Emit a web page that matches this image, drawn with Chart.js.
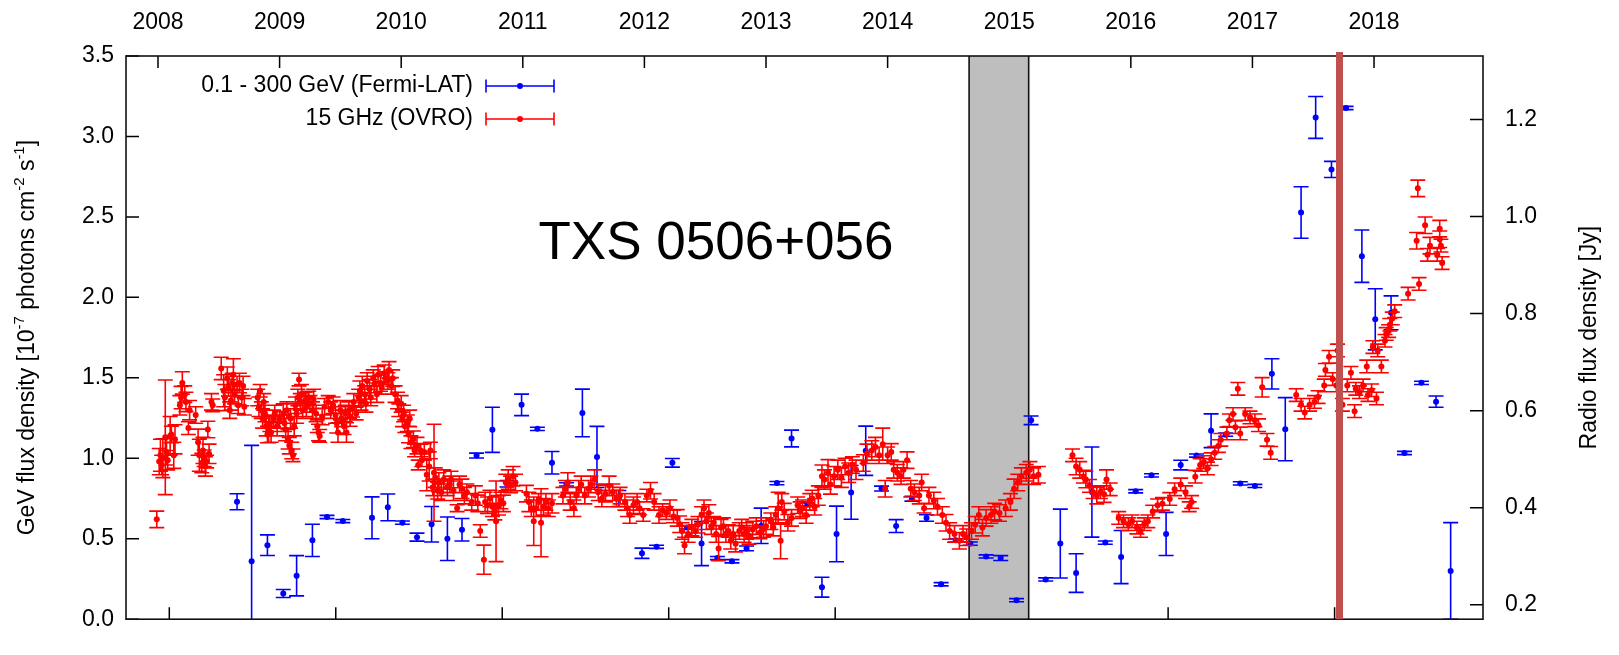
<!DOCTYPE html>
<html>
<head>
<meta charset="utf-8">
<title>TXS 0506+056 light curve</title>
<script src="https://cdn.jsdelivr.net/npm/chart.js@4.4.1/dist/chart.umd.min.js"></script>
<style>
  html, body { margin: 0; padding: 0; background: #fff; }
  canvas { display: block; }
</style>
</head>
<body>
<canvas id="lightCurve" width="1619" height="655"></canvas>
<script>
// axis ticks
const yearTicks = [2008, 2009, 2010, 2011, 2012, 2013, 2014, 2015, 2016, 2017, 2018];
const mjdTicks = [54500, 55000, 55500, 56000, 56500, 57000, 57500, 58000];
const gevTicks = [0, 0.5, 1.0, 1.5, 2.0, 2.5, 3.0, 3.5];
const jyTicks = [0.2, 0.4, 0.6, 0.8, 1.0, 1.2];

// Fermi-LAT 0.1-300 GeV, units of 1e-7 ph cm^-2 s^-1
const fermiYear = [
  2008.65, 2008.77, 2008.90, 2009.03, 2009.14, 2009.27, 2009.39, 2009.52, 2009.76, 2009.89,
  2010.01, 2010.13, 2010.25, 2010.38, 2010.50, 2010.62, 2010.75, 2010.87, 2010.99, 2011.12,
  2011.24, 2011.36, 2011.49, 2011.61, 2011.79, 2011.98, 2012.10, 2012.23, 2012.35, 2012.47,
  2012.60, 2012.72, 2012.84, 2012.96, 2013.09, 2013.21, 2013.34, 2013.46, 2013.58, 2013.70,
  2013.82, 2013.95, 2014.07, 2014.20, 2014.32, 2014.44, 2014.56, 2014.68, 2014.81, 2014.93,
  2015.06, 2015.18, 2015.30, 2015.42, 2015.55, 2015.68, 2015.79, 2015.92, 2016.04, 2016.17,
  2016.29, 2016.41, 2016.54, 2016.66, 2016.78, 2016.90, 2017.02, 2017.16, 2017.27, 2017.40,
  2017.52, 2017.65, 2017.77, 2017.90, 2018.01, 2018.14, 2018.25, 2018.39, 2018.51, 2018.63
];
const fermiFlux = [
  0.73, 0.36, 0.46, 0.16, 0.27, 0.49, 0.635, 0.61, 0.63, 0.695,
  0.60, 0.51, 0.59, 0.50, 0.556, 1.017, 1.177, 0.842, 1.332, 1.183,
  0.972, 0.838, 1.282, 1.008, 0.75, 0.41, 0.45, 0.972, 0.57, 0.47,
  0.38, 0.36, 0.44, 0.58, 0.846, 1.123, 0.713, 0.199, 0.53, 0.788,
  1.047, 0.812, 0.579, 0.749, 0.629, 0.217, 0.49, 0.47, 0.39, 0.38,
  0.118, 1.236, 0.247, 0.47, 0.287, 0.79, 0.476, 0.386, 0.795, 0.894,
  0.53, 0.958, 1.017, 1.171, 1.147, 0.844, 0.828, 1.525, 1.181, 2.527,
  3.118, 2.795, 3.177, 2.256, 1.864, 1.904, 1.033, 1.469, 1.352, 0.30
];
const fermiErr = [
  0.05, 0.72, 0.064, 0.025, 0.125, 0.10, 0.01, 0.01, 0.13, 0.083,
  0.01, 0.025, 0.11, 0.135, 0.07, 0.015, 0.14, 0.02, 0.067, 0.01,
  0.07, 0.01, 0.148, 0.19, 0.05, 0.032, 0.01, 0.027, 0.01, 0.137,
  0.01, 0.01, 0.015, 0.11, 0.01, 0.052, 0.01, 0.062, 0.173, 0.167,
  0.153, 0.015, 0.04, 0.015, 0.02, 0.01, 0.01, 0.01, 0.01, 0.015,
  0.01, 0.027, 0.01, 0.214, 0.12, 0.28, 0.01, 0.165, 0.01, 0.01,
  0.134, 0.03, 0.01, 0.105, 0.01, 0.01, 0.01, 0.094, 0.196, 0.16,
  0.13, 0.05, 0.01, 0.163, 0.19, 0.105, 0.01, 0.01, 0.035, 0.30
];

// OVRO 15 GHz, Jy
const radioYear = [
  2007.99, 2008.01, 2008.02, 2008.03, 2008.04, 2008.06, 2008.07, 2008.08, 2008.10, 2008.11,
  2008.13, 2008.14, 2008.18, 2008.19, 2008.20, 2008.22, 2008.23, 2008.25, 2008.26, 2008.31,
  2008.33, 2008.34, 2008.36, 2008.37, 2008.38, 2008.39, 2008.40, 2008.41, 2008.42, 2008.44, 2008.45,
  2008.52, 2008.54, 2008.55, 2008.57, 2008.58, 2008.59, 2008.60, 2008.61, 2008.62, 2008.63, 2008.65, 2008.66, 2008.67, 2008.69, 2008.70, 2008.71,
  2008.82, 2008.83, 2008.84, 2008.85, 2008.86, 2008.87, 2008.88, 2008.89, 2008.90, 2008.91, 2008.92, 2008.93, 2008.95, 2008.96, 2008.98, 2009.00,
  2009.03, 2009.04, 2009.05, 2009.06, 2009.07, 2009.08, 2009.09, 2009.10, 2009.11, 2009.12, 2009.13, 2009.14, 2009.15, 2009.16, 2009.17, 2009.18, 2009.19,
  2009.21, 2009.22, 2009.24, 2009.25, 2009.27, 2009.28, 2009.30, 2009.31, 2009.32, 2009.33, 2009.35, 2009.37,
  2009.40, 2009.42, 2009.44, 2009.46, 2009.47, 2009.48, 2009.50, 2009.51, 2009.53, 2009.54, 2009.55, 2009.57, 2009.58, 2009.60, 2009.61, 2009.63,
  2009.65, 2009.66, 2009.67, 2009.68, 2009.70, 2009.71, 2009.72, 2009.74, 2009.75, 2009.77, 2009.78, 2009.80, 2009.81, 2009.83, 2009.84, 2009.86, 2009.87, 2009.89, 2009.90, 2009.92, 2009.93, 2009.95,
  2009.97, 2009.98, 2010.00, 2010.01, 2010.02, 2010.03, 2010.05, 2010.06, 2010.07, 2010.08, 2010.10, 2010.11, 2010.13, 2010.14, 2010.16, 2010.17,
  2010.19, 2010.21, 2010.23, 2010.24, 2010.26, 2010.27, 2010.28, 2010.30, 2010.31, 2010.33, 2010.35,
  2010.38, 2010.40, 2010.41, 2010.43, 2010.46, 2010.48, 2010.50, 2010.52, 2010.54,
  2010.58, 2010.61, 2010.63, 2010.65, 2010.68, 2010.69, 2010.71, 2010.73, 2010.75, 2010.77, 2010.78, 2010.80, 2010.82, 2010.84, 2010.86, 2010.88, 2010.90, 2010.92, 2010.94,
  2011.03, 2011.05, 2011.07, 2011.09, 2011.11, 2011.13, 2011.15, 2011.17, 2011.19, 2011.21, 2011.24,
  2011.33, 2011.35, 2011.37, 2011.39, 2011.42, 2011.44, 2011.46, 2011.48, 2011.51, 2011.54, 2011.56, 2011.59, 2011.62, 2011.65, 2011.68, 2011.71, 2011.74, 2011.77, 2011.80,
  2011.84, 2011.86, 2011.88, 2011.91, 2011.94, 2011.96, 2011.99, 2012.02, 2012.05, 2012.08, 2012.12, 2012.15, 2012.18, 2012.21, 2012.24,
  2012.27, 2012.29, 2012.31, 2012.33, 2012.36, 2012.39, 2012.42, 2012.44,
  2012.47, 2012.49, 2012.51, 2012.53, 2012.55, 2012.57, 2012.59, 2012.61, 2012.63, 2012.65, 2012.67, 2012.69, 2012.71, 2012.73, 2012.75, 2012.78, 2012.80, 2012.82, 2012.84, 2012.86, 2012.89, 2012.92, 2012.95, 2012.98, 2013.00,
  2013.04, 2013.06, 2013.08, 2013.10, 2013.12, 2013.13, 2013.15, 2013.18, 2013.21, 2013.26, 2013.28, 2013.30, 2013.33, 2013.36, 2013.38, 2013.40,
  2013.43, 2013.46, 2013.48, 2013.51, 2013.53, 2013.56, 2013.59, 2013.62, 2013.65, 2013.68, 2013.71, 2013.74,
  2013.80, 2013.83, 2013.87, 2013.90, 2013.93, 2013.96, 2013.98, 2014.00, 2014.03, 2014.05,
  2014.08, 2014.11, 2014.13, 2014.16, 2014.19, 2014.22, 2014.26, 2014.28, 2014.30, 2014.34, 2014.38, 2014.41,
  2014.45, 2014.48, 2014.51, 2014.55, 2014.59, 2014.62, 2014.65, 2014.69, 2014.72, 2014.75, 2014.78, 2014.81, 2014.85, 2014.88, 2014.92,
  2014.97, 2015.01, 2015.04, 2015.07, 2015.10, 2015.14, 2015.17, 2015.20, 2015.24,
  2015.52, 2015.55, 2015.58, 2015.61, 2015.63, 2015.66, 2015.69, 2015.72, 2015.75, 2015.78, 2015.80, 2015.83,
  2015.90, 2015.94, 2015.98, 2016.01, 2016.05, 2016.08, 2016.11, 2016.14, 2016.18, 2016.22, 2016.26,
  2016.32, 2016.36, 2016.41, 2016.45, 2016.48, 2016.50, 2016.53, 2016.57, 2016.60, 2016.63, 2016.66, 2016.69, 2016.72,
  2016.74, 2016.79, 2016.81, 2016.84, 2016.86, 2016.88, 2016.90, 2016.94, 2016.98, 2017.02, 2017.05, 2017.08, 2017.12, 2017.15,
  2017.36, 2017.40, 2017.43, 2017.47, 2017.51, 2017.54, 2017.59, 2017.60, 2017.63, 2017.66, 2017.69, 2017.70,
  2017.74, 2017.78, 2017.81, 2017.84, 2017.85, 2017.88, 2017.91, 2017.94, 2017.95, 2017.98, 2017.99, 2018.02, 2018.03, 2018.06, 2018.09, 2018.10, 2018.12, 2018.13, 2018.15, 2018.17,
  2018.28, 2018.35, 2018.36, 2018.37, 2018.42, 2018.44, 2018.46, 2018.52, 2018.54, 2018.54, 2018.55, 2018.56
];
const radioFlux = [
  0.376, 0.495, 0.508, 0.488, 0.502, 0.545, 0.515, 0.498, 0.548, 0.551,
  0.508, 0.541, 0.611, 0.627, 0.657, 0.634, 0.618, 0.564, 0.601, 0.591,
  0.535, 0.508, 0.492, 0.518, 0.502, 0.485, 0.495, 0.561, 0.511, 0.618, 0.611,
  0.687, 0.641, 0.627, 0.667, 0.647, 0.601, 0.621, 0.657, 0.674, 0.634, 0.654, 0.611, 0.657, 0.627, 0.651, 0.608,
  0.627, 0.608, 0.641, 0.601, 0.584, 0.618, 0.594, 0.568, 0.551, 0.561, 0.574, 0.555, 0.584, 0.594, 0.568, 0.581,
  0.594, 0.574, 0.561, 0.601, 0.541, 0.528, 0.584, 0.518, 0.508, 0.568, 0.611, 0.594, 0.627, 0.664, 0.618, 0.634, 0.601,
  0.621, 0.608, 0.627, 0.614, 0.601, 0.624, 0.594, 0.568, 0.555, 0.548, 0.588, 0.608,
  0.618, 0.601, 0.611, 0.591, 0.574, 0.555, 0.601, 0.584, 0.568, 0.594, 0.555, 0.601, 0.588, 0.604, 0.618, 0.594,
  0.627, 0.641, 0.618, 0.651, 0.634, 0.614, 0.661, 0.644, 0.627, 0.667, 0.654, 0.634, 0.674, 0.657, 0.647, 0.677, 0.667, 0.661, 0.684, 0.651, 0.667, 0.634,
  0.621, 0.601, 0.614, 0.584, 0.594, 0.568, 0.574, 0.551, 0.584, 0.535, 0.541, 0.518, 0.528, 0.488, 0.518, 0.498,
  0.515, 0.468, 0.485, 0.518, 0.442, 0.472, 0.462, 0.435, 0.452, 0.432, 0.458,
  0.442, 0.448, 0.458, 0.435, 0.399, 0.448, 0.439, 0.425, 0.432,
  0.412, 0.425, 0.409, 0.352, 0.293, 0.412, 0.405, 0.419, 0.402, 0.392, 0.372, 0.405, 0.415, 0.409, 0.452, 0.458, 0.448, 0.465, 0.452,
  0.429, 0.412, 0.399, 0.372, 0.399, 0.412, 0.369, 0.402, 0.412, 0.399, 0.409,
  0.425, 0.439, 0.452, 0.412, 0.399, 0.425, 0.439, 0.448, 0.425, 0.439, 0.448, 0.458, 0.432, 0.419, 0.429, 0.445, 0.432, 0.419, 0.425,
  0.412, 0.399, 0.385, 0.405, 0.412, 0.399, 0.385, 0.425, 0.435, 0.412, 0.385, 0.395, 0.389, 0.399, 0.382,
  0.379, 0.366, 0.352, 0.322, 0.346, 0.359, 0.352, 0.365,
  0.385, 0.399, 0.372, 0.389, 0.362, 0.369, 0.346, 0.316, 0.359, 0.362, 0.346, 0.352, 0.332, 0.346, 0.326, 0.352, 0.359, 0.346, 0.352, 0.342, 0.355, 0.362, 0.349, 0.356, 0.362,
  0.372, 0.359, 0.385, 0.399, 0.332, 0.412, 0.392, 0.369, 0.379, 0.405, 0.395, 0.399, 0.385, 0.412, 0.419, 0.402,
  0.425, 0.465, 0.458, 0.472, 0.448, 0.465, 0.478, 0.462, 0.485, 0.472, 0.488, 0.478,
  0.492, 0.511, 0.518, 0.525, 0.508, 0.531, 0.439, 0.508, 0.515, 0.478,
  0.472, 0.465, 0.478, 0.498, 0.439, 0.432, 0.425, 0.452, 0.399, 0.425, 0.415, 0.402,
  0.385, 0.369, 0.352, 0.346, 0.332, 0.346, 0.339, 0.352, 0.365, 0.385, 0.359, 0.379, 0.385, 0.392, 0.389,
  0.399, 0.412, 0.439, 0.452, 0.465, 0.472, 0.478, 0.465, 0.468,
  0.508, 0.485, 0.478, 0.464, 0.458, 0.445, 0.432, 0.425, 0.432, 0.428, 0.458, 0.438,
  0.379, 0.372, 0.366, 0.372, 0.359, 0.352, 0.366, 0.372, 0.392, 0.405, 0.408,
  0.418, 0.438, 0.448, 0.432, 0.402, 0.412, 0.464, 0.488, 0.494, 0.481, 0.500, 0.513, 0.527,
  0.540, 0.553, 0.580, 0.593, 0.566, 0.645, 0.553, 0.593, 0.586, 0.580, 0.570, 0.648, 0.540, 0.513,
  0.632, 0.612, 0.596, 0.612, 0.618, 0.628, 0.652, 0.684, 0.711, 0.665, 0.652, 0.724,
  0.612, 0.652, 0.678, 0.599, 0.645, 0.638, 0.652, 0.691, 0.632, 0.642, 0.731, 0.625, 0.724, 0.691, 0.744, 0.758, 0.764, 0.777, 0.790, 0.805,
  0.841, 0.950, 1.058, 0.861, 0.982, 0.921, 0.940, 0.921, 0.975, 0.953, 0.940, 0.904
];
const radioErr = [
  0.017, 0.027, 0.033, 0.020, 0.040, 0.118, 0.027, 0.020, 0.040, 0.017,
  0.027, 0.030, 0.020, 0.023, 0.023, 0.017, 0.020, 0.013, 0.020, 0.017,
  0.027, 0.033, 0.020, 0.027, 0.017, 0.020, 0.013, 0.017, 0.020, 0.017, 0.013,
  0.023, 0.033, 0.027, 0.023, 0.017, 0.017, 0.020, 0.020, 0.033, 0.020, 0.017, 0.017, 0.020, 0.017, 0.020, 0.017,
  0.017, 0.020, 0.013, 0.017, 0.020, 0.017, 0.017, 0.020, 0.017, 0.027, 0.017, 0.020, 0.017, 0.017, 0.020, 0.017,
  0.020, 0.017, 0.023, 0.017, 0.020, 0.017, 0.020, 0.017, 0.013, 0.020, 0.017, 0.020, 0.017, 0.013, 0.017, 0.020, 0.017,
  0.017, 0.020, 0.013, 0.017, 0.017, 0.020, 0.017, 0.013, 0.017, 0.013, 0.017, 0.017,
  0.013, 0.017, 0.017, 0.017, 0.020, 0.020, 0.020, 0.017, 0.017, 0.017, 0.020, 0.017, 0.020, 0.017, 0.017, 0.013,
  0.017, 0.020, 0.017, 0.020, 0.017, 0.017, 0.017, 0.020, 0.017, 0.017, 0.017, 0.017, 0.017, 0.017, 0.013, 0.017, 0.013, 0.017, 0.017, 0.017, 0.017, 0.017,
  0.017, 0.013, 0.017, 0.017, 0.017, 0.013, 0.017, 0.017, 0.017, 0.013, 0.017, 0.013, 0.017, 0.010, 0.013, 0.013,
  0.017, 0.033, 0.030, 0.017, 0.017, 0.100, 0.020, 0.017, 0.020, 0.017, 0.020,
  0.017, 0.017, 0.017, 0.020, 0.007, 0.017, 0.020, 0.017, 0.017,
  0.017, 0.020, 0.017, 0.013, 0.030, 0.020, 0.017, 0.017, 0.020, 0.017, 0.083, 0.020, 0.017, 0.017, 0.017, 0.020, 0.017, 0.020, 0.017,
  0.017, 0.020, 0.017, 0.050, 0.017, 0.017, 0.070, 0.017, 0.017, 0.017, 0.020,
  0.017, 0.017, 0.020, 0.017, 0.017, 0.017, 0.017, 0.017, 0.017, 0.017, 0.017, 0.020, 0.017, 0.017, 0.017, 0.020, 0.017, 0.017, 0.017,
  0.017, 0.017, 0.017, 0.017, 0.017, 0.013, 0.013, 0.013, 0.017, 0.017, 0.017, 0.013, 0.013, 0.017, 0.013,
  0.017, 0.017, 0.017, 0.017, 0.017, 0.017, 0.013, 0.017,
  0.017, 0.017, 0.017, 0.017, 0.017, 0.013, 0.017, 0.025, 0.017, 0.017, 0.017, 0.013, 0.017, 0.017, 0.017, 0.017, 0.017, 0.017, 0.017, 0.017, 0.017, 0.017, 0.013, 0.017, 0.017,
  0.017, 0.017, 0.017, 0.033, 0.037, 0.017, 0.017, 0.017, 0.017, 0.017, 0.017, 0.017, 0.017, 0.017, 0.017, 0.017,
  0.020, 0.023, 0.020, 0.027, 0.020, 0.020, 0.020, 0.020, 0.017, 0.020, 0.017, 0.020,
  0.017, 0.020, 0.020, 0.020, 0.017, 0.033, 0.017, 0.017, 0.017, 0.017,
  0.017, 0.017, 0.017, 0.017, 0.017, 0.017, 0.017, 0.017, 0.010, 0.017, 0.017, 0.017,
  0.017, 0.017, 0.017, 0.017, 0.017, 0.017, 0.017, 0.017, 0.017, 0.017, 0.017, 0.017, 0.017, 0.017, 0.017,
  0.017, 0.017, 0.020, 0.017, 0.017, 0.017, 0.017, 0.017, 0.017,
  0.013, 0.017, 0.017, 0.013, 0.017, 0.013, 0.013, 0.017, 0.013, 0.017, 0.020, 0.013,
  0.013, 0.013, 0.013, 0.013, 0.013, 0.013, 0.013, 0.013, 0.013, 0.013, 0.013,
  0.013, 0.013, 0.013, 0.013, 0.010, 0.013, 0.013, 0.013, 0.013, 0.013, 0.013, 0.013, 0.013,
  0.013, 0.013, 0.013, 0.013, 0.013, 0.013, 0.013, 0.013, 0.013, 0.013, 0.013, 0.020, 0.013, 0.013,
  0.013, 0.013, 0.013, 0.013, 0.013, 0.013, 0.013, 0.013, 0.013, 0.013, 0.013, 0.013,
  0.013, 0.013, 0.013, 0.013, 0.013, 0.013, 0.013, 0.013, 0.013, 0.013, 0.013, 0.013, 0.013, 0.013, 0.013, 0.013, 0.013, 0.013, 0.013, 0.013,
  0.013, 0.017, 0.017, 0.013, 0.017, 0.013, 0.017, 0.013, 0.017, 0.017, 0.013, 0.013
];

// 2014-15 neutrino flare window and the IceCube-170922A alert
const flareWindow = [2014.67, 2015.16];
const alertYear = 2017.716;

const yearMin = 2007.737, yearMax = 2018.896;
const toMjd = y => 54466 + (y - 2008) * 365.25;

const BLUE = '#0000ff';
const RED = '#ff0000';
const FONT = '"Liberation Sans", Arial, Helvetica, sans-serif';

function points(xs, ys) {
  const n = Math.min(xs.length, ys.length);
  const out = [];
  for (let i = 0; i < n; i++) out.push({ x: xs[i], y: ys[i] });
  return out;
}

// vertical error bars with caps, drawn just before each dataset's dots
const errorBars = {
  id: 'errorBars',
  beforeDatasetDraw(chart, args) {
    const ds = chart.data.datasets[args.index];
    if (!ds.errors) return;
    const { ctx, chartArea: a } = chart;
    const xs = chart.scales.x, ys = chart.scales[ds.yAxisID];
    const cap = 7.5;
    ctx.save();
    ctx.beginPath();
    ctx.rect(a.left, a.top, a.right - a.left, a.bottom - a.top);
    ctx.clip();
    ctx.strokeStyle = ds.borderColor;
    ctx.lineWidth = 1.6;
    ctx.beginPath();
    ds.data.forEach((p, i) => {
      const e = ds.errors[i] || 0;
      const px = xs.getPixelForValue(p.x);
      const top = ys.getPixelForValue(p.y + e);
      const bot = ys.getPixelForValue(p.y - e);
      ctx.moveTo(px, top); ctx.lineTo(px, bot);
      ctx.moveTo(px - cap, top); ctx.lineTo(px + cap, top);
      ctx.moveTo(px - cap, bot); ctx.lineTo(px + cap, bot);
    });
    ctx.stroke();
    ctx.restore();
  }
};

// gnuplot-style inward ticks, then the shaded flare window on top of them
const underlay = {
  id: 'underlay',
  beforeDatasetsDraw(chart) {
    const { ctx, chartArea: a, scales } = chart;
    ctx.save();
    ctx.strokeStyle = '#000';
    ctx.lineWidth = 1.5;
    ctx.beginPath();
    scales.x.ticks.forEach(t => {
      const p = scales.x.getPixelForValue(t.value);
      ctx.moveTo(p, a.top); ctx.lineTo(p, a.top + 12);
    });
    scales.mjd.ticks.forEach(t => {
      const p = scales.mjd.getPixelForValue(t.value);
      ctx.moveTo(p, a.bottom); ctx.lineTo(p, a.bottom - 12);
    });
    scales.y.ticks.forEach(t => {
      const p = scales.y.getPixelForValue(t.value);
      ctx.moveTo(a.left, p); ctx.lineTo(a.left + 13, p);
    });
    scales.y2.ticks.forEach(t => {
      const p = scales.y2.getPixelForValue(t.value);
      ctx.moveTo(a.right, p); ctx.lineTo(a.right - 13, p);
    });
    ctx.stroke();

    const x1 = scales.x.getPixelForValue(flareWindow[0]);
    const x2 = scales.x.getPixelForValue(flareWindow[1]);
    ctx.fillStyle = '#bebebe';
    ctx.fillRect(x1, a.top, x2 - x1, a.bottom - a.top);
    ctx.strokeStyle = '#111';
    ctx.lineWidth = 1.6;
    ctx.beginPath();
    ctx.moveTo(x1, a.top); ctx.lineTo(x1, a.bottom);
    ctx.moveTo(x2, a.top); ctx.lineTo(x2, a.bottom);
    ctx.stroke();
    ctx.restore();
  }
};

function drawSupText(ctx, parts, cx, cy) {
  const big = '23px ' + FONT, small = '15px ' + FONT;
  let total = 0;
  parts.forEach(([s, sup]) => { ctx.font = sup ? small : big; total += ctx.measureText(s).width; });
  let x = cx - total / 2;
  parts.forEach(([s, sup]) => {
    ctx.font = sup ? small : big;
    ctx.fillText(s, x, sup ? cy - 8 : cy);
    x += ctx.measureText(s).width;
  });
}

// frame, alert line, key, source name and axis titles
const overlay = {
  id: 'overlay',
  afterDatasetsDraw(chart) {
    const { ctx, chartArea: a, scales } = chart;
    ctx.save();
    ctx.strokeStyle = '#111';
    ctx.lineWidth = 1.6;
    ctx.strokeRect(a.left, a.top, a.right - a.left, a.bottom - a.top);

    const xa = scales.x.getPixelForValue(alertYear);
    ctx.fillStyle = '#c0504d';
    ctx.fillRect(xa - 3.5, a.top - 4, 7, a.bottom - a.top + 4);

    // key: label on the left, error-bar sample on the right
    ctx.font = '23px ' + FONT;
    ctx.textBaseline = 'middle';
    chart.data.datasets.forEach((ds, i) => {
      const y = a.top + 30 + i * 33;
      const x0 = a.left + 360, x1 = a.left + 428, xm = (x0 + x1) / 2;
      ctx.fillStyle = '#000';
      ctx.textAlign = 'right';
      ctx.fillText(ds.label, a.left + 347, y);
      ctx.strokeStyle = ds.borderColor;
      ctx.lineWidth = 1.6;
      ctx.beginPath();
      ctx.moveTo(x0, y); ctx.lineTo(x1, y);
      ctx.moveTo(x0, y - 6.5); ctx.lineTo(x0, y + 6.5);
      ctx.moveTo(x1, y - 6.5); ctx.lineTo(x1, y + 6.5);
      ctx.stroke();
      ctx.fillStyle = ds.borderColor;
      ctx.beginPath();
      ctx.arc(xm, y, 3, 0, Math.PI * 2);
      ctx.fill();
    });

    ctx.fillStyle = '#000';
    ctx.textAlign = 'center';
    ctx.textBaseline = 'alphabetic';
    ctx.font = '53px ' + FONT;
    ctx.fillText('TXS 0506+056', a.left + 590, a.top + 203);

    const midY = (a.top + a.bottom) / 2;
    ctx.textBaseline = 'middle';
    ctx.textAlign = 'left';
    ctx.save();
    ctx.translate(28, midY);
    ctx.rotate(-Math.PI / 2);
    drawSupText(ctx, [
      ['GeV flux density [10', false], ['-7', true], [' photons cm', false],
      ['-2', true], [' s', false], ['-1', true], [']', false]
    ], 0, 0);
    ctx.restore();

    ctx.save();
    ctx.translate(1590, midY);
    ctx.rotate(-Math.PI / 2);
    ctx.font = '23px ' + FONT;
    ctx.textAlign = 'center';
    ctx.fillText('Radio flux density [Jy]', 0, 0);
    ctx.restore();
    ctx.restore();
  }
};

const tickFont = { family: FONT, size: 23 };
const noGrid = { display: false, drawTicks: false };

new Chart(document.getElementById('lightCurve'), {
  type: 'scatter',
  data: {
    datasets: [
      {
        label: '0.1 - 300 GeV (Fermi-LAT)',
        data: points(fermiYear, fermiFlux),
        errors: fermiErr,
        yAxisID: 'y',
        order: 1,
        borderColor: BLUE,
        backgroundColor: BLUE,
        pointRadius: 3,
        pointBorderWidth: 0
      },
      {
        label: '15 GHz (OVRO)',
        data: points(radioYear, radioFlux),
        errors: radioErr,
        yAxisID: 'y2',
        order: 0,
        borderColor: RED,
        backgroundColor: RED,
        pointRadius: 3,
        pointBorderWidth: 0
      }
    ]
  },
  options: {
    responsive: false,
    animation: false,
    events: [],
    layout: { padding: 0 },
    plugins: { legend: { display: false }, tooltip: { enabled: false } },
    scales: {
      x: {
        type: 'linear', position: 'top', min: yearMin, max: yearMax,
        afterBuildTicks: s => { s.ticks = yearTicks.map(v => ({ value: v })); },
        afterFit: s => { s.height = 56; },
        grid: noGrid, border: { display: false },
        ticks: { color: '#000', font: tickFont, padding: 20, autoSkip: false, maxRotation: 0,
                 callback: v => String(v) }
      },
      mjd: {
        type: 'linear', position: 'bottom', min: toMjd(yearMin), max: toMjd(yearMax),
        afterBuildTicks: s => { s.ticks = mjdTicks.map(v => ({ value: v })); },
        afterFit: s => { s.height = 13; },
        grid: noGrid, border: { display: false },
        ticks: { display: false }
      },
      y: {
        type: 'linear', position: 'left', min: 0, max: 3.5,
        afterBuildTicks: s => { s.ticks = gevTicks.map(v => ({ value: v })); },
        afterFit: s => { s.width = 126; },
        grid: noGrid, border: { display: false },
        ticks: { color: '#000', font: tickFont, padding: 12, callback: v => v.toFixed(1) }
      },
      y2: {
        type: 'linear', position: 'right', min: 0.1703, max: 1.3307,
        afterBuildTicks: s => { s.ticks = jyTicks.map(v => ({ value: v })); },
        afterFit: s => { s.width = 136; },
        grid: noGrid, border: { display: false },
        ticks: { color: '#000', font: tickFont, padding: 22, callback: v => v.toFixed(1) }
      }
    }
  },
  plugins: [errorBars, underlay, overlay]
});
</script>
</body>
</html>
